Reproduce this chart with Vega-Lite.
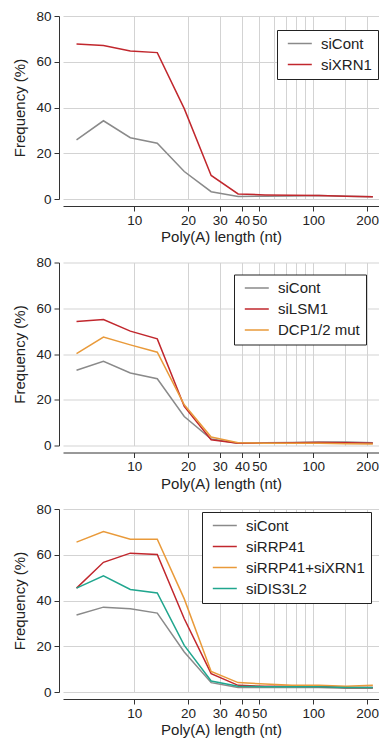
{
  "$schema": "https://vega.github.io/schema/vega-lite/v6.json",
  "padding": {"top": 9, "left": 12, "right": 0, "bottom": 0},
  "spacing": 10.5,
  "config": {
    "font": "Liberation Sans",
    "view": {"stroke": null},
    "axis": {"labelFontSize": 13.5, "titleFontSize": 15, "titleFontWeight": "normal", "labelColor": "#222", "titleColor": "#222", "domainColor": "#333", "tickColor": "#333", "gridColor": "#d3d3d3", "gridWidth": 1, "tickSize": 5},
    "legend": {"labelFontSize": 15, "labelColor": "#222", "title": null, "strokeColor": "#222", "fillColor": "white", "padding": 6, "symbolType": "M-0.45,0H3.55", "symbolSize": 144, "symbolStrokeWidth": 2, "labelOffset": 23, "rowPadding": 5, "orient": "none"},
    "line": {"strokeWidth": 1.5}
  },
  "data": {"values": [
    {"p":1,"s":"siCont","len":4.76,"f":25.8},{"p":1,"s":"siCont","len":6.73,"f":34.2},{"p":1,"s":"siCont","len":9.51,"f":26.8},{"p":1,"s":"siCont","len":13.45,"f":24.4},{"p":1,"s":"siCont","len":19.03,"f":12.0},{"p":1,"s":"siCont","len":26.9,"f":3.2},{"p":1,"s":"siCont","len":38.05,"f":1.1},{"p":1,"s":"siCont","len":53.8,"f":1.2},{"p":1,"s":"siCont","len":76.1,"f":1.3},{"p":1,"s":"siCont","len":107.6,"f":1.5},{"p":1,"s":"siCont","len":152.2,"f":1.2},{"p":1,"s":"siCont","len":215.3,"f":1.0},
    {"p":1,"s":"siXRN1","len":4.76,"f":67.8},{"p":1,"s":"siXRN1","len":6.73,"f":67.1},{"p":1,"s":"siXRN1","len":9.51,"f":64.7},{"p":1,"s":"siXRN1","len":13.45,"f":64.0},{"p":1,"s":"siXRN1","len":19.03,"f":39.5},{"p":1,"s":"siXRN1","len":26.9,"f":10.3},{"p":1,"s":"siXRN1","len":38.05,"f":2.2},{"p":1,"s":"siXRN1","len":53.8,"f":1.8},{"p":1,"s":"siXRN1","len":76.1,"f":1.6},{"p":1,"s":"siXRN1","len":107.6,"f":1.5},{"p":1,"s":"siXRN1","len":152.2,"f":1.2},{"p":1,"s":"siXRN1","len":215.3,"f":1.0},
    {"p":2,"s":"siCont","len":4.76,"f":32.9},{"p":2,"s":"siCont","len":6.73,"f":36.8},{"p":2,"s":"siCont","len":9.51,"f":31.7},{"p":2,"s":"siCont","len":13.45,"f":29.2},{"p":2,"s":"siCont","len":19.03,"f":12.7},{"p":2,"s":"siCont","len":26.9,"f":2.8},{"p":2,"s":"siCont","len":38.05,"f":1.0},{"p":2,"s":"siCont","len":53.8,"f":1.2},{"p":2,"s":"siCont","len":76.1,"f":1.3},{"p":2,"s":"siCont","len":107.6,"f":1.5},{"p":2,"s":"siCont","len":152.2,"f":1.5},{"p":2,"s":"siCont","len":215.3,"f":1.2},
    {"p":2,"s":"siLSM1","len":4.76,"f":54.2},{"p":2,"s":"siLSM1","len":6.73,"f":55.1},{"p":2,"s":"siLSM1","len":9.51,"f":50.0},{"p":2,"s":"siLSM1","len":13.45,"f":46.6},{"p":2,"s":"siLSM1","len":19.03,"f":17.1},{"p":2,"s":"siLSM1","len":26.9,"f":2.5},{"p":2,"s":"siLSM1","len":38.05,"f":1.0},{"p":2,"s":"siLSM1","len":53.8,"f":1.0},{"p":2,"s":"siLSM1","len":76.1,"f":1.2},{"p":2,"s":"siLSM1","len":107.6,"f":1.3},{"p":2,"s":"siLSM1","len":152.2,"f":1.2},{"p":2,"s":"siLSM1","len":215.3,"f":1.0},
    {"p":2,"s":"DCP1/2 mut","len":4.76,"f":40.2},{"p":2,"s":"DCP1/2 mut","len":6.73,"f":47.4},{"p":2,"s":"DCP1/2 mut","len":9.51,"f":44.0},{"p":2,"s":"DCP1/2 mut","len":13.45,"f":40.8},{"p":2,"s":"DCP1/2 mut","len":19.03,"f":17.8},{"p":2,"s":"DCP1/2 mut","len":26.9,"f":3.7},{"p":2,"s":"DCP1/2 mut","len":38.05,"f":1.2},{"p":2,"s":"DCP1/2 mut","len":53.8,"f":1.0},{"p":2,"s":"DCP1/2 mut","len":76.1,"f":1.0},{"p":2,"s":"DCP1/2 mut","len":107.6,"f":1.0},{"p":2,"s":"DCP1/2 mut","len":152.2,"f":0.8},{"p":2,"s":"DCP1/2 mut","len":215.3,"f":0.7},
    {"p":3,"s":"siCont","len":4.76,"f":33.7},{"p":3,"s":"siCont","len":6.73,"f":37.1},{"p":3,"s":"siCont","len":9.51,"f":36.4},{"p":3,"s":"siCont","len":13.45,"f":34.5},{"p":3,"s":"siCont","len":19.03,"f":17.5},{"p":3,"s":"siCont","len":26.9,"f":4.1},{"p":3,"s":"siCont","len":38.05,"f":2.0},{"p":3,"s":"siCont","len":53.8,"f":2.0},{"p":3,"s":"siCont","len":76.1,"f":2.0},{"p":3,"s":"siCont","len":107.6,"f":2.0},{"p":3,"s":"siCont","len":152.2,"f":1.6},{"p":3,"s":"siCont","len":215.3,"f":1.6},
    {"p":3,"s":"siRRP41","len":4.76,"f":45.4},{"p":3,"s":"siRRP41","len":6.73,"f":56.7},{"p":3,"s":"siRRP41","len":9.51,"f":60.7},{"p":3,"s":"siRRP41","len":13.45,"f":60.1},{"p":3,"s":"siRRP41","len":19.03,"f":32.0},{"p":3,"s":"siRRP41","len":26.9,"f":8.0},{"p":3,"s":"siRRP41","len":38.05,"f":2.9},{"p":3,"s":"siRRP41","len":53.8,"f":2.5},{"p":3,"s":"siRRP41","len":76.1,"f":2.5},{"p":3,"s":"siRRP41","len":107.6,"f":2.4},{"p":3,"s":"siRRP41","len":152.2,"f":2.0},{"p":3,"s":"siRRP41","len":215.3,"f":2.0},
    {"p":3,"s":"siRRP41+siXRN1","len":4.76,"f":65.5},{"p":3,"s":"siRRP41+siXRN1","len":6.73,"f":70.1},{"p":3,"s":"siRRP41+siXRN1","len":9.51,"f":66.8},{"p":3,"s":"siRRP41+siXRN1","len":13.45,"f":66.8},{"p":3,"s":"siRRP41+siXRN1","len":19.03,"f":40.7},{"p":3,"s":"siRRP41+siXRN1","len":26.9,"f":9.0},{"p":3,"s":"siRRP41+siXRN1","len":38.05,"f":4.1},{"p":3,"s":"siRRP41+siXRN1","len":53.8,"f":3.5},{"p":3,"s":"siRRP41+siXRN1","len":76.1,"f":3.0},{"p":3,"s":"siRRP41+siXRN1","len":107.6,"f":3.0},{"p":3,"s":"siRRP41+siXRN1","len":152.2,"f":2.5},{"p":3,"s":"siRRP41+siXRN1","len":215.3,"f":3.0},
    {"p":3,"s":"siDIS3L2","len":4.76,"f":45.4},{"p":3,"s":"siDIS3L2","len":6.73,"f":50.8},{"p":3,"s":"siDIS3L2","len":9.51,"f":44.8},{"p":3,"s":"siDIS3L2","len":13.45,"f":43.3},{"p":3,"s":"siDIS3L2","len":19.03,"f":20.4},{"p":3,"s":"siDIS3L2","len":26.9,"f":4.8},{"p":3,"s":"siDIS3L2","len":38.05,"f":2.5},{"p":3,"s":"siDIS3L2","len":53.8,"f":2.3},{"p":3,"s":"siDIS3L2","len":76.1,"f":2.3},{"p":3,"s":"siDIS3L2","len":107.6,"f":2.3},{"p":3,"s":"siDIS3L2","len":152.2,"f":2.0},{"p":3,"s":"siDIS3L2","len":215.3,"f":2.0}
  ]},
  "resolve": {"scale": {"color": "independent"}, "legend": {"color": "independent"}},
  "vconcat": [
    {
      "width": 316, "height": 183,
      "transform": [{"filter": "datum.p == 1"}],
      "mark": {"type": "line"},
      "encoding": {
        "x": {"field": "len", "type": "quantitative", "scale": {"type": "log", "domain": [4, 233], "nice": false},
          "axis": {"values": [10,20,30,40,50,60,70,80,90,100,150,200], "labelExpr": "indexof([10,20,30,40,50,100,200], datum.value) >= 0 ? '' + datum.value : ''", "tickOpacity": {"condition": {"test": "indexof([10,20,30,40,50,100,200], datum.value) >= 0", "value": 1}, "value": 0}, "grid": true, "offset": 7, "labelPadding": 2, "titlePadding": 3, "labelOverlap": false, "labelFlush": false, "title": "Poly(A) length (nt)"}},
        "y": {"field": "f", "type": "quantitative", "scale": {"domain": [0, 80], "nice": false},
          "axis": {"values": [0,20,40,60,80], "grid": true, "offset": 4, "labelPadding": 3, "titlePadding": 8, "title": "Frequency (%)"}},
        "color": {"field": "s", "type": "nominal", "scale": {"domain": ["siCont", "siXRN1"], "range": ["#8a8a8a", "#c1272d"]},
          "legend": {"legendX": 214, "legendY": 14}}
      }
    },
    {
      "width": 316, "height": 183,
      "transform": [{"filter": "datum.p == 2"}],
      "mark": {"type": "line"},
      "encoding": {
        "x": {"field": "len", "type": "quantitative", "scale": {"type": "log", "domain": [4, 233], "nice": false},
          "axis": {"values": [10,20,30,40,50,60,70,80,90,100,150,200], "labelExpr": "indexof([10,20,30,40,50,100,200], datum.value) >= 0 ? '' + datum.value : ''", "tickOpacity": {"condition": {"test": "indexof([10,20,30,40,50,100,200], datum.value) >= 0", "value": 1}, "value": 0}, "grid": true, "offset": 7, "labelPadding": 2, "titlePadding": 3, "labelOverlap": false, "labelFlush": false, "title": "Poly(A) length (nt)"}},
        "y": {"field": "f", "type": "quantitative", "scale": {"domain": [0, 80], "nice": false},
          "axis": {"values": [0,20,40,60,80], "grid": true, "offset": 4, "labelPadding": 3, "titlePadding": 8, "title": "Frequency (%)"}},
        "color": {"field": "s", "type": "nominal", "scale": {"domain": ["siCont", "siLSM1", "DCP1/2 mut"], "range": ["#8a8a8a", "#c1272d", "#e99a3a"]},
          "legend": {"legendX": 171, "legendY": 12}}
      }
    },
    {
      "width": 316, "height": 183,
      "transform": [{"filter": "datum.p == 3"}],
      "mark": {"type": "line"},
      "encoding": {
        "x": {"field": "len", "type": "quantitative", "scale": {"type": "log", "domain": [4, 233], "nice": false},
          "axis": {"values": [10,20,30,40,50,60,70,80,90,100,150,200], "labelExpr": "indexof([10,20,30,40,50,100,200], datum.value) >= 0 ? '' + datum.value : ''", "tickOpacity": {"condition": {"test": "indexof([10,20,30,40,50,100,200], datum.value) >= 0", "value": 1}, "value": 0}, "grid": true, "offset": 7, "labelPadding": 2, "titlePadding": 3, "labelOverlap": false, "labelFlush": false, "title": "Poly(A) length (nt)"}},
        "y": {"field": "f", "type": "quantitative", "scale": {"domain": [0, 80], "nice": false},
          "axis": {"values": [0,20,40,60,80], "grid": true, "offset": 4, "labelPadding": 3, "titlePadding": 8, "title": "Frequency (%)"}},
        "color": {"field": "s", "type": "nominal", "scale": {"domain": ["siCont", "siRRP41", "siRRP41+siXRN1", "siDIS3L2"], "range": ["#8a8a8a", "#c1272d", "#e99a3a", "#20a68e"]},
          "legend": {"legendX": 139, "legendY": 3}}
      }
    }
  ]
}
